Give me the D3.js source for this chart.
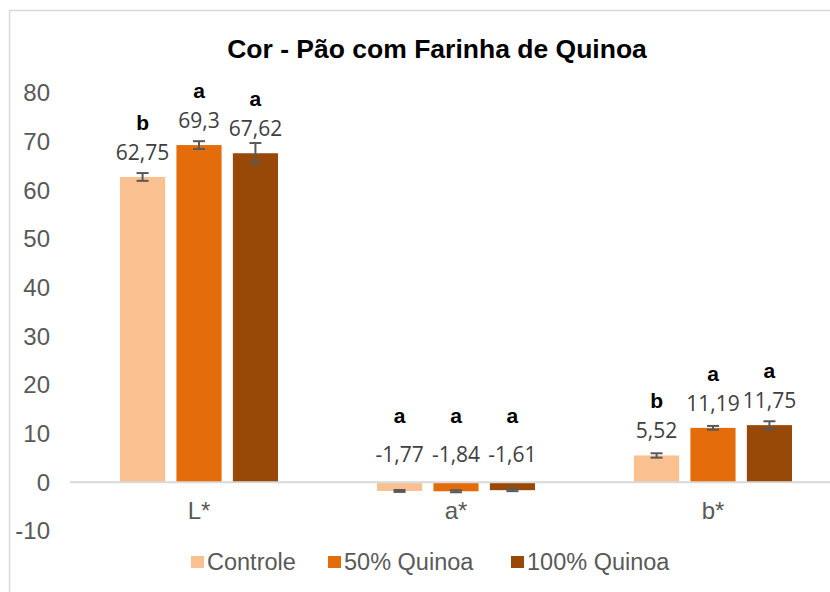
<!DOCTYPE html>
<html>
<head>
<meta charset="utf-8">
<script src="https://cdn.jsdelivr.net/npm/d3@7"></script>
<style>
  body { margin: 0; background: #fff; }
  svg { display: block; }
</style>
</head>
<body>
<div id="chart"></div>
<script>
// data
var categories = ["L*", "a*", "b*"];
var series = ["Controle", "50% Quinoa", "100% Quinoa"];
var colors = ["#FAC090", "#E46C0A", "#984807"];
var values = [
  [62.75, -1.77, 5.52],
  [69.3, -1.84, 11.19],
  [67.62, -1.61, 11.75]
];
var errors = [
  [0.8, 0.2, 0.45],
  [0.8, 0.2, 0.4],
  [2.1, 0.2, 0.8]
];
var letters = [
  ["b", "a", "b"],
  ["a", "a", "a"],
  ["a", "a", "a"]
];
var labels = [
  ["62,75", "-1,77", "5,52"],
  ["69,3", "-1,84", "11,19"],
  ["67,62", "-1,61", "11,75"]
];
var yTicks = [-10, 0, 10, 20, 30, 40, 50, 60, 70, 80];

var width = 830, height = 592;
var axisFont = "'Liberation Sans', Arial, sans-serif";

var svg = d3.select("#chart")
  .append("svg")
  .attr("width", width)
  .attr("height", height);

// chart area frame
svg.append("rect")
  .attr("x", 9.5)
  .attr("y", 10.5)
  .attr("width", 900)
  .attr("height", 700)
  .attr("fill", "none")
  .attr("stroke", "#d9d9d9")
  .attr("stroke-width", 1.5);

svg.append("text")
  .attr("x", 437)
  .attr("y", 58)
  .attr("text-anchor", "middle")
  .style("font-family", axisFont)
  .style("font-weight", "bold")
  .style("font-size", "26.5px")
  .attr("fill", "#000")
  .text("Cor - Pão com Farinha de Quinoa");

var y = d3.scaleLinear().domain([-10, 80]).range([531, 93]);
var x = d3.scaleBand().domain(categories).range([70.5, 841.5]).paddingInner(0).paddingOuter(0);
var xs = d3.scaleBand().domain(series).range([49.5, 207.5]).paddingInner(0.2);

// y axis labels (no line), plain hyphen for negatives
var yAxis = svg.append("g")
  .attr("transform", "translate(50,0)")
  .call(d3.axisLeft(y).tickValues(yTicks).tickSize(0).tickPadding(0)
    .tickFormat(function(d) { return String(d); }));
yAxis.select(".domain").remove();
yAxis.selectAll("text")
  .style("font-family", axisFont)
  .style("font-size", "24px")
  .attr("fill", "#595959");

// bars
var groups = svg.selectAll("g.cat")
  .data(categories)
  .enter().append("g")
  .attr("class", "cat")
  .attr("transform", function(d) { return "translate(" + x(d) + ",0)"; });

series.forEach(function(s, si) {
  groups.append("rect")
    .attr("x", xs(s))
    .attr("width", xs.bandwidth())
    .attr("y", function(d, ci) { return y(Math.max(0, values[si][ci])); })
    .attr("height", function(d, ci) { return Math.abs(y(values[si][ci]) - y(0)); })
    .attr("fill", colors[si]);
});

// zero line
svg.append("line")
  .attr("x1", 70).attr("x2", 830)
  .attr("y1", y(0)).attr("y2", y(0))
  .attr("stroke", "#d9d9d9")
  .attr("stroke-width", 2);

// error bars
series.forEach(function(s, si) {
  var eb = groups.append("g")
    .attr("stroke", "#595959")
    .attr("stroke-width", 2);
  var cx = xs(s) + xs.bandwidth() / 2;
  eb.append("line")
    .attr("x1", cx).attr("x2", cx)
    .attr("y1", function(d, ci) { return y(values[si][ci] + errors[si][ci]); })
    .attr("y2", function(d, ci) { return y(values[si][ci] - errors[si][ci]); });
  eb.append("line")
    .attr("x1", cx - 6).attr("x2", cx + 6)
    .attr("y1", function(d, ci) { return y(values[si][ci] + errors[si][ci]); })
    .attr("y2", function(d, ci) { return y(values[si][ci] + errors[si][ci]); });
  eb.append("line")
    .attr("x1", cx - 6).attr("x2", cx + 6)
    .attr("y1", function(d, ci) { return y(values[si][ci] - errors[si][ci]); })
    .attr("y2", function(d, ci) { return y(values[si][ci] - errors[si][ci]); });

  // value labels
  groups.append("text")
    .attr("x", cx)
    .attr("y", function(d, ci) { return y(Math.max(0, values[si][ci])) - (values[si][ci] < 0 ? 20 : 17); })
    .attr("text-anchor", "middle")
    .style("font-family", "'Open Sans', 'Noto Sans', sans-serif")
    .style("font-size", "21px")
    .attr("fill", "#404040")
    .text(function(d, ci) { return labels[si][ci]; });

  // significance letters
  groups.append("text")
    .attr("x", cx)
    .attr("y", function(d, ci) { return y(Math.max(0, values[si][ci])) - (values[si][ci] < 0 ? 59 : 47); })
    .attr("text-anchor", "middle")
    .style("font-family", axisFont)
    .style("font-weight", "bold")
    .style("font-size", "21px")
    .attr("fill", "#000")
    .text(function(d, ci) { return letters[si][ci]; });
});

// category labels
svg.selectAll("text.catlabel")
  .data(categories)
  .enter().append("text")
  .attr("class", "catlabel")
  .attr("x", function(d) { return x(d) + x.bandwidth() / 2; })
  .attr("y", 519)
  .attr("text-anchor", "middle")
  .style("font-family", axisFont)
  .style("font-size", "24px")
  .attr("fill", "#595959")
  .text(function(d) { return d; });

// legend
var legendX = [191, 328, 511];
var legend = svg.selectAll("g.leg")
  .data(series)
  .enter().append("g")
  .attr("class", "leg")
  .attr("transform", function(d, i) { return "translate(" + legendX[i] + ",556)"; });
legend.append("rect")
  .attr("width", 13).attr("height", 12)
  .attr("fill", function(d, i) { return colors[i]; });
legend.append("text")
  .attr("x", 16)
  .attr("y", 14)
  .style("font-family", axisFont)
  .style("font-size", "23.5px")
  .attr("fill", "#595959")
  .text(function(d) { return d; });
</script>
</body>
</html>
